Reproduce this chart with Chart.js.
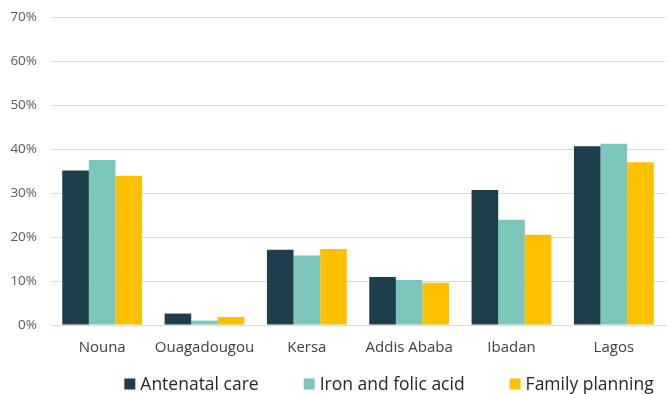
<!DOCTYPE html>
<html>
<head>
<meta charset="utf-8">
<script src="https://cdn.jsdelivr.net/npm/chart.js@4.4.1/dist/chart.umd.min.js"></script>
<style>
  html, body { margin: 0; padding: 0; background: #ffffff; }
  #wrap { width: 668px; height: 394px; position: relative; }
</style>
</head>
<body>
<div id="wrap"><canvas id="chart" width="668" height="394"></canvas></div>
<script>
// Share of women receiving each service, by site (%)
const sites = ['Nouna', 'Ouagadougou', 'Kersa', 'Addis Ababa', 'Ibadan', 'Lagos'];
const antenatalCare = [35.1, 2.6, 17.1, 10.9, 30.7, 40.6];
const ironFolicAcid = [37.5, 1.0, 15.8, 10.2, 23.9, 41.2];
const familyPlanning = [33.9, 1.8, 17.3, 9.6, 20.5, 37.0];
const seriesNames = ['Antenatal care', 'Iron and folic acid', 'Family planning'];
const seriesColors = ['#1c3f4b', '#7cc6bb', '#ffc000'];

const FONT = "'Open Sans', 'Noto Sans', sans-serif";

// Legend drawn as a single centred row under the axis labels
const rowLegend = {
  id: 'rowLegend',
  afterDraw(chart) {
    const ctx = chart.ctx;
    const size = 17.5, box = 11, gap = 5, between = 45;
    ctx.save();
    ctx.font = size + 'px ' + FONT;
    ctx.textBaseline = 'middle';
    const items = chart.data.datasets.map(ds => ({
      label: ds.label, color: ds.backgroundColor,
      w: box + gap + ctx.measureText(ds.label).width
    }));
    const total = items.reduce((s, it) => s + it.w, 0) + between * (items.length - 1);
    let x = 389 - total / 2;
    const y = 384;
    items.forEach(it => {
      ctx.fillStyle = it.color;
      ctx.fillRect(x, y - box / 2, box, box);
      ctx.fillStyle = '#262626';
      ctx.fillText(it.label, x + box + gap, y + 1);
      x += it.w + between;
    });
    ctx.restore();
  }
};

new Chart(document.getElementById('chart'), {
  type: 'bar',
  data: {
    labels: sites,
    datasets: [
      { label: seriesNames[0], data: antenatalCare, backgroundColor: seriesColors[0] },
      { label: seriesNames[1], data: ironFolicAcid, backgroundColor: seriesColors[1] },
      { label: seriesNames[2], data: familyPlanning, backgroundColor: seriesColors[2] }
    ]
  },
  options: {
    responsive: false,
    animation: false,
    devicePixelRatio: 1,
    layout: { padding: { left: 0, right: 3, top: 17, bottom: 0 } },
    datasets: { bar: { categoryPercentage: 0.78, barPercentage: 1.0, borderWidth: 0 } },
    plugins: {
      legend: { display: false },
      tooltip: { enabled: false }
    },
    scales: {
      x: {
        grid: { display: false, drawTicks: false },
        border: { display: true, color: '#d9d9d9', width: 1 },
        ticks: {
          color: '#404040', font: { family: FONT, size: 15 }, padding: 14,
          maxRotation: 0, minRotation: 0, autoSkip: false
        },
        afterFit: s => { s.height = 69; s.paddingLeft = 0; s.paddingRight = 0; }
      },
      y: {
        min: 0, max: 70,
        grid: { color: '#d9d9d9', lineWidth: 1, drawTicks: false },
        border: { display: false },
        ticks: {
          stepSize: 10,
          color: '#595959',
          font: { family: FONT, size: 13.5 },
          padding: 14,
          callback: v => v + '%'
        },
        afterFit: s => { s.width = 51; s.paddingTop = 0; s.paddingBottom = 0; }
      }
    }
  },
  plugins: [rowLegend]
});
</script>
</body>
</html>
